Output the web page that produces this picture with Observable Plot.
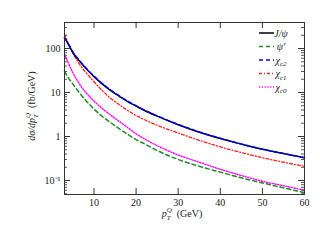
<!DOCTYPE html>
<html><head><meta charset="utf-8">
<script src="https://cdn.jsdelivr.net/npm/d3@7"></script>
<script src="https://cdn.jsdelivr.net/npm/@observablehq/plot@0.6"></script>
<style>body{margin:0;background:#fff}</style>
</head><body><div id="chart"></div>
<script>
// transverse momentum p_T^Q (GeV)
const pt    = [3,4,5,6,7,8,9,10,12,14,16,18,20,22,25,30,35,40,45,50,55,60];
// dσ/dp_T (fb/GeV)
const jpsi  = [180,120,80,60,46,36,28.5,23,15.5,11,8.2,6.2,4.9,3.9,2.9,1.85,1.25,0.9,0.67,0.51,0.41,0.33];
const psi2s = [30,21,15.5,11.5,8.7,6.7,5.3,4.2,2.85,2.05,1.5,1.12,0.85,0.68,0.48,0.3,0.21,0.155,0.115,0.088,0.068,0.053];
const chic2 = [172,124,83,62,47.5,37,29.3,23.6,15.9,11.3,8.4,6.35,5.0,3.98,2.95,1.88,1.27,0.91,0.675,0.515,0.41,0.33];
const chic1 = [215,125,78,53,38,29,22.5,17.5,11,7.3,5.3,3.9,3.0,2.4,1.8,1.2,0.82,0.58,0.43,0.33,0.26,0.21];
const chic0 = [75,45,28,19,13.5,10.2,8.0,6.4,4.3,3.05,2.2,1.6,1.15,0.88,0.62,0.38,0.26,0.18,0.13,0.096,0.076,0.06];
const xTicks = [10,20,30,40,50,60];
const yTicks = [0.1,1,10,100];
const yTickLabels = ["10\u207B\u00B9","1","10","100"];

const series = [
  {name:"J/ψ",  sub:"",  values:jpsi,  stroke:"#000000", dash:null,      width:1.5},
  {name:"ψ′",   sub:"",  values:psi2s, stroke:"#1e8c1e", dash:"4,3",     width:1.5},
  {name:"χ",    sub:"c2",values:chic2, stroke:"#0000ff", dash:"4,3",     width:1.5},
  {name:"χ",    sub:"c1",values:chic1, stroke:"#ff2020", dash:"3,2,1,2", width:1.3},
  {name:"χ",    sub:"c0",values:chic0, stroke:"#ff00ff", dash:"1.2,1.6", width:1.4}
];
const drawOrder = [1,4,3,0,2];

const minor = [];
for (let e = -2; e <= 2; e++) for (let m = 2; m <= 9; m++) {
  const v = m * Math.pow(10, e);
  if (v > 0.048 && v < 390) minor.push(v);
}

const lineMarks = drawOrder.map(i => {
  const s = series[i];
  const rows = pt.map((x, j) => ({x, y: s.values[j]}));
  return Plot.line(rows, {x:"x", y:"y", stroke:s.stroke, strokeWidth:s.width,
    strokeDasharray:s.dash, curve:"monotone-x"});
});

const chart = Plot.plot({
  width:320, height:240,
  marginLeft:64, marginRight:16, marginTop:22, marginBottom:46,
  style:{fontFamily:"'Liberation Serif', serif", fontSize:"10px", background:"#fff", color:"#222"},
  x:{domain:[3,60]},
  y:{type:"log", domain:[0.048,390]},
  marks:[
    ...lineMarks,
    Plot.tickX(xTicks, {x:d=>d, insetTop:166, stroke:"#333"}),
    Plot.tickX(xTicks, {x:d=>d, insetBottom:166, stroke:"#333"}),
    Plot.tickY(yTicks, {y:d=>d, insetRight:234, stroke:"#333"}),
    Plot.tickY(yTicks, {y:d=>d, insetLeft:234, stroke:"#333"}),
    Plot.tickY(minor, {y:d=>d, insetRight:237, stroke:"#555"}),
    Plot.tickY(minor, {y:d=>d, insetLeft:237, stroke:"#555"}),
    Plot.frame({stroke:"#333"}),
    Plot.axisX({ticks:xTicks, tickSize:0, tickPadding:4, label:null}),
    Plot.axisY({ticks:yTicks, tickSize:0, tickPadding:4, label:null,
      tickFormat:d=>yTickLabels[yTicks.indexOf(d)]})
  ]
});
document.getElementById("chart").appendChild(chart);

const svg = d3.select(chart);
const g = svg.append("g").attr("font-family","'Liberation Serif', serif").attr("fill","#222");
// legend
series.forEach((s, i) => {
  const y = 33 + i * 13.5;
  g.append("line").attr("x1",259).attr("x2",274).attr("y1",y).attr("y2",y)
    .attr("stroke",s.stroke).attr("stroke-width",s.width)
    .attr("stroke-dasharray",s.dash);
  const t = g.append("text").attr("x",281).attr("y",y+3.5).attr("font-size",10).attr("font-style","italic");
  t.append("tspan").text(s.name);
  if (s.sub) t.append("tspan").attr("dy",2.5).attr("font-size",7).text(s.sub);
});
// y label
const yl = g.append("text").attr("transform","translate(35,106) rotate(-90)")
  .attr("text-anchor","middle").attr("font-size",10);
yl.append("tspan").attr("font-style","italic").text("dσ/dp");
yl.append("tspan").attr("font-style","italic").attr("font-size",7).attr("dy",3).text("T");
yl.append("tspan").attr("font-style","italic").attr("font-size",7).attr("dy",-8).attr("dx",-4).text("Q");
yl.append("tspan").attr("dy",5).text("\u2002(fb/GeV)");
// x label
const xl = g.append("text").attr("x",182).attr("y",217).attr("text-anchor","middle").attr("font-size",10);
xl.append("tspan").attr("font-style","italic").text("p");
xl.append("tspan").attr("font-style","italic").attr("font-size",7).attr("dy",3).text("T");
xl.append("tspan").attr("font-style","italic").attr("font-size",7).attr("dy",-8).attr("dx",-4).text("Q");
xl.append("tspan").attr("dy",5).text("\u2002(GeV)");
</script>
</body></html>
